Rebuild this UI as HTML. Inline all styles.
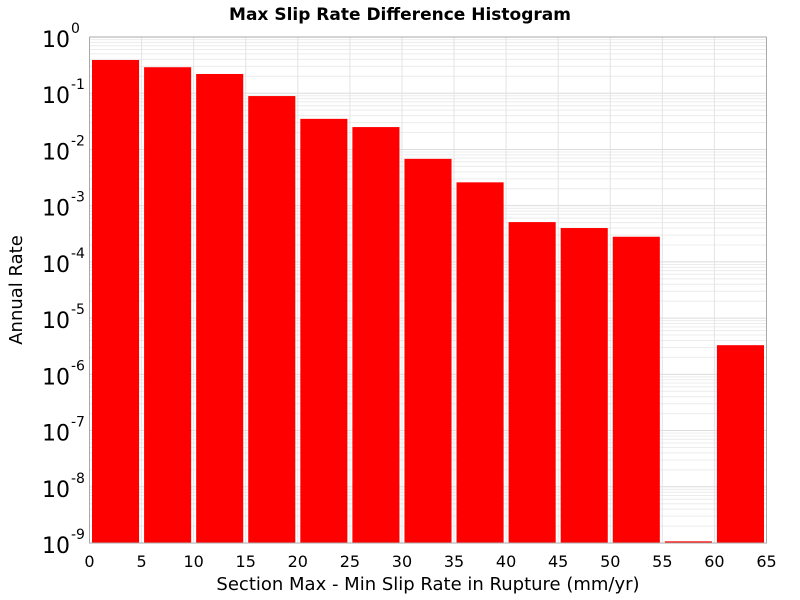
<!DOCTYPE html>
<html><head><meta charset="utf-8"><style>
body{margin:0;background:#fff;}
svg{display:block;font-family:"DejaVu Sans","Liberation Sans",sans-serif;}
</style></head><body>
<svg id="chart" width="800" height="600">
<text x="400" y="20" text-anchor="middle" font-size="17" font-weight="bold">Max Slip Rate Difference Histogram</text>
<text x="428" y="590" text-anchor="middle" font-size="18">Section Max - Min Slip Rate in Rupture (mm/yr)</text>
<text transform="translate(22,290) rotate(-90)" text-anchor="middle" font-size="18">Annual Rate</text>
</svg>
<script>
const binStarts=[0,5,10,15,20,25,30,35,40,45,50,55,60];
const rates=[0.39,0.29,0.22,0.089,0.035,0.025,0.0068,0.0026,0.00051,0.00040,0.00028,1.07e-9,3.3e-6];
const xTicks=[0,5,10,15,20,25,30,35,40,45,50,55,60,65];
const yExps=[0,-1,-2,-3,-4,-5,-6,-7,-8,-9];
const binWidth=5;
const L=89.5,R=766.5,T=37,B=543,xMin=0,xMax=65,yMaxE=0,yMinE=-9;
const NS="http://www.w3.org/2000/svg";
const svg=document.getElementById('chart');
function X(v){return L+(v-xMin)/(xMax-xMin)*(R-L);}
function Y(v){return T+(yMaxE-Math.log10(v))/(yMaxE-yMinE)*(B-T);}
function mk(t,a){const e=document.createElementNS(NS,t);for(const k in a)e.setAttribute(k,a[k]);svg.appendChild(e);return e;}
// grid
for(let e=yMinE;e<yMaxE;e++){for(let m=1;m<10;m++){const y=Y(m*Math.pow(10,e));
const g=mk('line',{x1:L,x2:R,y1:y,y2:y,stroke:m==1?'#dcdcdc':'#ececec','stroke-width':1});

}}
xTicks.forEach(t=>{const x=X(t);const g=mk('line',{x1:x,x2:x,y1:T,y2:B,stroke:'#e4e4e4','stroke-width':1});

});
// bars
binStarts.forEach((s,i)=>{const x0=X(s)+2.5,x1=X(s+binWidth)-2.5,y=Y(rates[i]);
const r=mk('rect',{x:x0,y:y,width:x1-x0,height:Math.max(B-y,1),fill:'#ff0000'});

});
const f=mk('rect',{x:L,y:T,width:R-L,height:B-T,fill:'none',stroke:'#aaaaaa','stroke-width':1});


xTicks.forEach(t=>{const tx=mk('text',{x:X(t),y:567,'text-anchor':'middle','font-size':16});tx.textContent=t;

});
yExps.forEach(e=>{const y=Y(Math.pow(10,e));const tx=mk('text',{x:70,y:y+10,'text-anchor':'end','font-size':22});tx.textContent='10';


const sup=mk('text',{x:71,y:y-4,'text-anchor':'start','font-size':14});sup.textContent=String(e);

});
</script>
</body></html>
